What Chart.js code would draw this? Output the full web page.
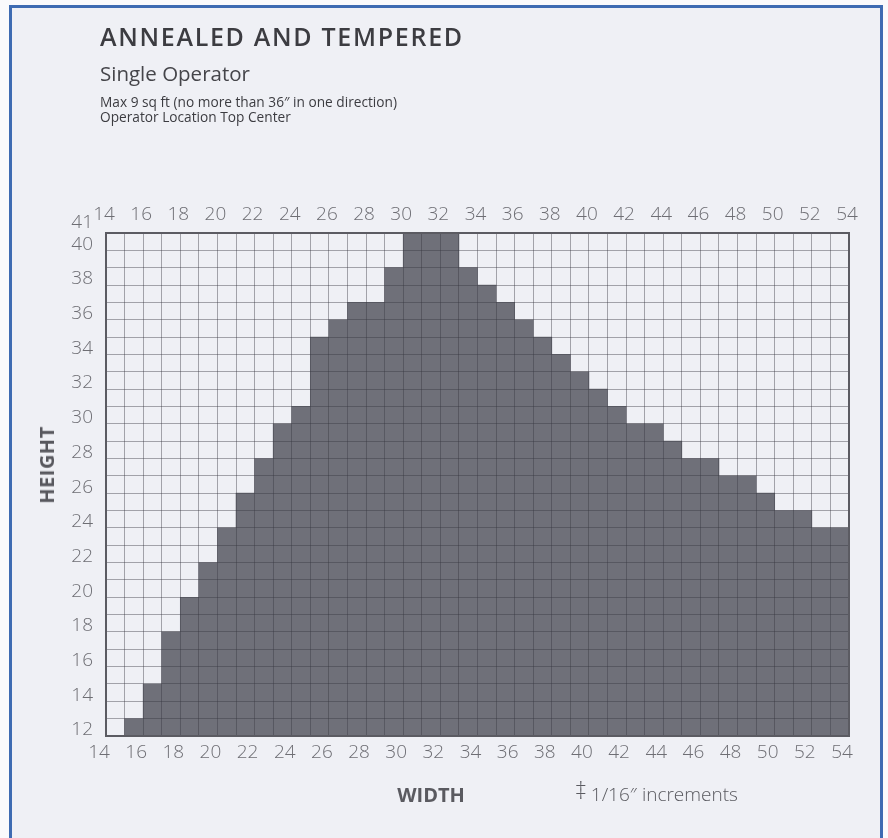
<!DOCTYPE html>
<html>
<head>
<meta charset="utf-8">
<title>Annealed and Tempered</title>
<script src="https://cdn.jsdelivr.net/npm/chart.js@4.4.0/dist/chart.umd.min.js"></script>
<style>
  body { margin: 0; background: #fafafc; font-family: "Open Sans", sans-serif; }
  #frame { position: absolute; left: 9px; top: 5px; width: 868px; height: 840px;
           background: #eff0f5; border: 3px solid #3e6bb2; border-bottom: none; }
  #box { position: absolute; left: 0; top: 0; width: 888px; height: 838px; }
  .txt { position: absolute; white-space: nowrap; line-height: 1; }
  #title { left: 100px; top: 24px; font-size: 25px; font-weight: 600; letter-spacing: 1.7px; color: #3c3c41; }
  #sub { left: 100px; top: 63px; font-size: 20.5px; color: #45454a; }
  #notes { left: 100px; top: 94px; font-size: 13.7px; line-height: 15px; color: #3c3c41; }
  #yTitle { left: 47px; top: 465px; transform: translate(-50%, -50%) rotate(-90deg);
            font-size: 20px; font-weight: 700; letter-spacing: 0.5px; color: #58585e; }
  #xTitle { left: 431px; top: 795px; transform: translate(-50%, -50%);
            font-size: 20px; font-weight: 700; color: #5a5a60; }
  #note { left: 575px; top: 780px; font-size: 19px; font-weight: 300; color: #5a5a60; }
  #note span { font-size: 24px; position: relative; top: -2px; margin-right: 4px; }
</style>
</head>
<body>
<div id="frame"></div>
<div id="box"><canvas id="gridChart"></canvas></div>
<div class="txt" id="title">ANNEALED AND TEMPERED</div>
<div class="txt" id="sub">Single Operator</div>
<div class="txt" id="notes">Max 9 sq ft (no more than 36″ in one direction)<br>Operator Location Top Center</div>
<div class="txt" id="yTitle">HEIGHT</div>
<div class="txt" id="xTitle">WIDTH</div>
<div class="txt" id="note"><span>‡</span>1/16″ increments</div>

<script>
// one column per inch of width, filled up to the max height allowed
const xWidths = [14,15,16,17,18,19,20,21,22,23,24,25,26,27,28,29,30,31,32,33,
                 34,35,36,37,38,39,40,41,42,43,44,45,46,47,48,49,50,51,52,53];
const maxHeights = [11,12,14,17,19,21,23,25,27,29,30,34,35,36,36,38,40,40,40,38,
                    37,36,35,34,33,32,31,30,29,29,28,27,27,26,26,25,24,24,23,23];
const minHeight = 11;   // bottom of the grid
const topHeight = 40;   // top of the grid
const xTickLabels = [14,16,18,20,22,24,26,28,30,32,34,36,38,40,42,44,46,48,50,52,54];
const yTickLabels = [12,14,16,18,20,22,24,26,28,30,32,34,36,38,40,41];

const tickFont = { family: 'Open Sans', size: 19, weight: 300 };
const tickColor = '#6e6e74';
const gridColor = 'rgba(55, 55, 65, 0.42)';
const edge = { display: true, color: '#5b5b62', width: 2, z: 2 };

const ctx = document.getElementById('gridChart');

new Chart(ctx, {
    type: 'bar',
    data: {
        datasets: [{
            data: xWidths.map((w, i) => ({ x: w + 0.5, y: maxHeights[i] })),
            base: minHeight,
            backgroundColor: '#6f7079',
            borderWidth: 0,
            barPercentage: 1,
            categoryPercentage: 1,
            xAxisID: 'x',
            yAxisID: 'y'
        }]
    },
    options: {
        responsive: true,
        maintainAspectRatio: false,
        animation: false,
        layout: { padding: { top: 190, left: 0, right: 39, bottom: 0 } },
        scales: {
            x: {                          // bottom axis, also draws the vertical grid
                type: 'linear', position: 'bottom', offset: false,
                min: xWidths[0], max: xTickLabels[xTickLabels.length - 1],
                ticks: {
                    stepSize: 1, autoSkip: false, maxRotation: 0,
                    callback: v => xTickLabels.includes(v) ? v : '',
                    labelOffset: -7, padding: 5,
                    font: tickFont, color: tickColor
                },
                grid: { color: gridColor, drawTicks: false, offset: false, z: 1 },
                border: edge,
                afterFit: s => { s.height = 102; }
            },
            xTop: {
                type: 'linear', position: 'top', offset: false,
                min: xWidths[0], max: xTickLabels[xTickLabels.length - 1],
                ticks: {
                    stepSize: 2, autoSkip: false, maxRotation: 0,
                    labelOffset: -2, padding: 7,
                    font: tickFont, color: tickColor
                },
                grid: { display: false, drawTicks: false, offset: false },
                border: edge,
                afterFit: s => { s.height = 43; }
            },
            yLab: {                       // height labels sit inside their rows
                type: 'linear', position: 'left',
                min: minHeight, max: topHeight,
                afterBuildTicks: s => {
                    s.ticks = yTickLabels.map(h => ({ value: h > topHeight ? h - 0.42 : h - 0.65 }));
                },
                ticks: {
                    autoSkip: false, padding: 13,
                    callback: (v, i) => yTickLabels[i],
                    font: tickFont, color: tickColor
                },
                grid: { display: false, drawTicks: false },
                border: edge,
                afterFit: s => { s.width = 106; }
            },
            y: {                          // horizontal grid, one line per inch
                type: 'linear', position: 'left',
                min: minHeight, max: topHeight,
                ticks: { display: false, stepSize: 1 },
                grid: { color: gridColor, drawTicks: false, z: 1 },
                border: { display: false },
                afterFit: s => { s.width = 0; }
            },
            yRight: {
                type: 'linear', position: 'right',
                min: minHeight, max: topHeight,
                ticks: { display: false },
                grid: { display: false, drawTicks: false },
                border: edge,
                afterFit: s => { s.width = 0; }
            }
        },
        plugins: {
            legend: { display: false },
            tooltip: { enabled: false }
        }
    }
});
</script>
</body>
</html>
